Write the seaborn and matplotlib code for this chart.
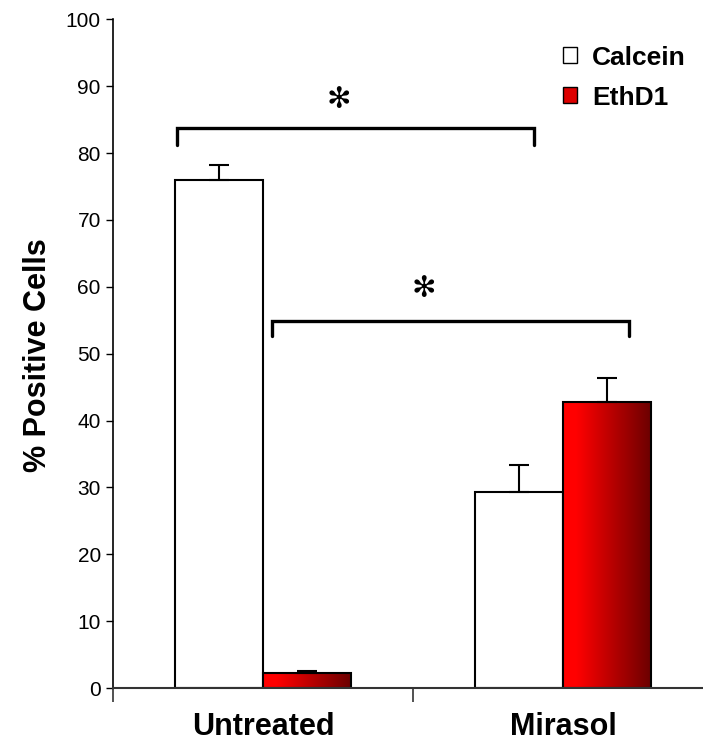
import numpy as np
import pandas as pd
import seaborn as sns
from matplotlib import pyplot as plt
from matplotlib.colors import LinearSegmentedColormap
from matplotlib.patches import Patch

sns.set_style('white')
plt.rcParams['font.family'] = ['Liberation Sans', 'DejaVu Sans']
plt.rcParams['text.color'] = 'black'
plt.rcParams['axes.labelcolor'] = 'black'
plt.rcParams['xtick.color'] = 'black'
plt.rcParams['ytick.color'] = 'black'

# data
groups = ['Untreated', 'Mirasol']
stains = ['Calcein', 'EthD1']
calcein = [75.9, 29.3]
ethd1 = [2.3, 42.7]
calcein_err = [2.3, 4.0]
ethd1_err = [0.3, 3.7]

df = pd.DataFrame({
    'group': groups * 2,
    'stain': [stains[0]] * 2 + [stains[1]] * 2,
    'value': calcein + ethd1,
    'err': calcein_err + ethd1_err,
})

fig = plt.figure(figsize=(7.03, 7.55), dpi=100)
ax = fig.add_axes([113.3 / 703, 67 / 755, 600 / 703, 668.7 / 755])

sns.barplot(data=df, x='group', y='value', hue='stain', order=groups,
            hue_order=stains, palette=['white', '#ee0000'], width=0.587,
            errorbar=None, edgecolor='black', linewidth=1.5, ax=ax,
            legend=False)

# gradient fill for the EthD1 bars, upper error bars for all
red_cmap = LinearSegmentedColormap.from_list(
    'ethd', [(0, '#ff0000'), (0.15, '#ff0000'), (1, '#6a0000')])
grad = np.linspace(0, 1, 256).reshape(1, -1)
bars = ax.patches
for i, stain in enumerate(stains):
    for j, g in enumerate(groups):
        p = bars[i * len(groups) + j]
        x0, w, h = p.get_x(), p.get_width(), p.get_height()
        row = df[(df.stain == stain) & (df.group == g)].iloc[0]
        if stain == 'EthD1':
            im = ax.imshow(grad, cmap=red_cmap, aspect='auto',
                           extent=[x0, x0 + w, 0, h], zorder=p.get_zorder())
            im.set_clip_path(p)
            p.set_facecolor('none')
            p.set_zorder(p.get_zorder() + 0.1)
        ax.errorbar(x0 + w / 2, h, yerr=[[0], [row.err]], fmt='none',
                    ecolor='black', elinewidth=1.5, capsize=7.5, capthick=1.5,
                    zorder=1)

# significance brackets
def bracket(x1, x2, y, drop, star_x, star_y):
    ax.plot([x1, x1, x2, x2], [y - drop, y, y, y - drop], color='black',
            lw=2.4, solid_joinstyle='miter', clip_on=False)
    ax.text(star_x, star_y, '✻', ha='center', va='center', fontsize=21,
            family='DejaVu Sans')

bracket(-0.288, 0.902, 83.8, 2.6, 0.25, 88.0)
bracket(0.028, 1.218, 54.9, 2.3, 0.535, 59.7)

ax.set_xlim(-0.5, 1.5)
ax.set_ylim(0, 100)
ax.set_yticks(range(0, 101, 10))
ax.set_xticks([-0.5, 0.5, 1.5], minor=True)
ax.tick_params(axis='x', which='major', length=0, pad=17, labelsize=22)
ax.tick_params(axis='x', which='minor', length=10, width=1.2, color='#333333',
               direction='out', bottom=True)
ax.tick_params(axis='y', length=5, width=1, direction='out', left=True,
               labelsize=15, pad=4)
for lab in ax.get_xticklabels():
    lab.set_fontweight('bold')
ax.set_xlabel('')
ax.set_ylabel('% Positive Cells', fontsize=22, fontweight='bold')
ax.yaxis.set_label_coords(-0.1, 0.498)

sns.despine(ax=ax, top=True, right=True)
ax.spines['left'].set_color('black')
ax.spines['left'].set_linewidth(1.2)
ax.spines['bottom'].set_color('#333333')
ax.spines['bottom'].set_linewidth(1.5)

handles = [Patch(facecolor='white', edgecolor='black', lw=1),
           Patch(facecolor='#dd0000', edgecolor='black', lw=1)]
fig.legend(handles, stains, loc='upper left', bbox_to_anchor=(539 / 703, 1 - 22 / 755),
           frameon=False, prop={'weight': 'bold', 'size': 19},
           handlelength=0.55, handleheight=0.55, handletextpad=0.55,
           labelspacing=0.6)

fig.savefig('out.png', dpi=100)
